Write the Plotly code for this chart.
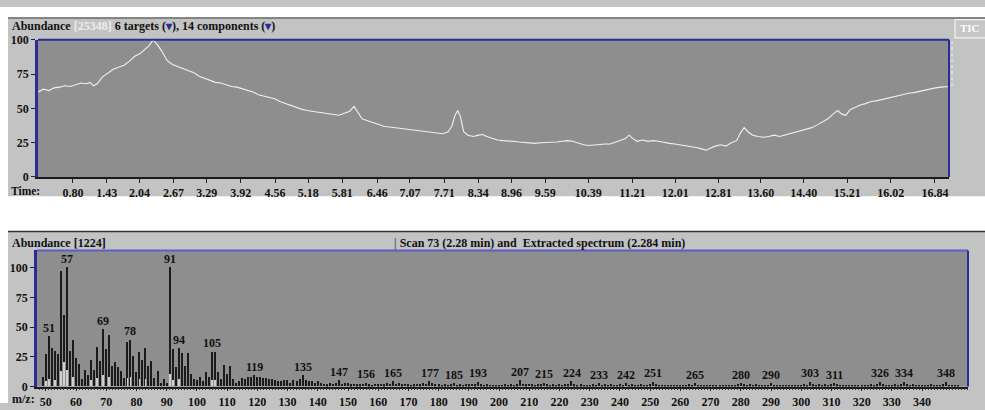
import plotly.graph_objects as go

# ---------------- data ----------------
TIC_TIME = [0.15,0.25,0.35,0.45,0.55,0.65,0.75,0.85,0.95,1.05,1.12,1.18,1.25,1.35,1.45,1.55,1.65,1.75,1.85,1.95,
            2.05,2.15,2.22,2.29,2.36,2.45,2.55,2.65,2.75,2.85,2.95,3.05,3.15,3.25,3.35,3.45,3.55,3.65,3.75,3.85,
            3.95,4.05,4.15,4.25,4.35,4.45,4.55,4.65,4.75,4.85,4.95,5.05,5.15,5.25,5.35,5.45,5.55,5.65,5.75,5.85,
            5.95,6.03,6.10,6.18,6.28,6.38,6.48,6.58,6.68,6.78,6.88,6.98,7.08,7.18,7.28,7.38,7.48,7.58,7.68,7.78,
            7.85,7.91,7.96,8.01,8.07,8.15,8.25,8.35,8.42,8.50,8.60,8.70,8.80,8.90,9.00,9.10,9.20,9.30,9.40,9.50,
            9.60,9.70,9.80,9.90,10.00,10.10,10.20,10.30,10.40,10.50,10.60,10.70,10.80,10.90,11.00,11.08,11.15,11.22,11.30,11.40,
            11.50,11.60,11.70,11.80,11.90,12.00,12.10,12.20,12.30,12.40,12.50,12.58,12.66,12.75,12.85,12.95,13.05,13.15,13.22,13.29,
            13.36,13.45,13.55,13.65,13.75,13.85,13.95,14.05,14.15,14.25,14.35,14.45,14.55,14.65,14.75,14.85,14.95,15.03,15.10,15.18,
            15.26,15.35,15.45,15.55,15.65,15.75,15.85,15.95,16.05,16.15,16.25,16.35,16.45,16.55,16.65,16.75,16.85,16.95,17.05,17.10]
TIC_ABUND = [62,64,63,65,65.5,66.5,66,67.5,68.5,68,69,66.5,68,73,76,78.5,80,81.5,84.5,88,
             90,93.5,96,100,97,92,85,82,80.5,79,77.5,76,73.5,72,70.5,69,68.5,67,66,65.5,
             64.5,63,62,60,59,58,57,55,53.5,52,50.5,49.5,48.5,48,47,46.5,46,45.5,45,46.5,
             48,51.5,47,42.5,41,40,38.5,37,36.5,36,35,34.5,34,33.5,33.5,32.5,32,31.5,31.5,33,
             37,45,48.5,44,33,30.5,29.5,30.5,31,29.5,28,27,26.5,26.5,26,25.5,25,25,24.5,25,
             25,25.5,25.5,26,26.5,26,24.5,23.5,23,23.5,23.5,24,24,25.5,27,28,30.5,28,26,27,
             26,26.5,26,25,24.5,24,23.5,23,22,21.5,20.5,19.5,21,22.5,23.5,22.5,25,26.5,32,36,
             33,30.5,29.5,29,29.5,30.5,29.5,30.5,32,32.5,34,35,36,38,40,42.5,46,48.5,46,45,
             49,50.5,52.5,53.5,55,55.5,56.5,57,58,59,60,61,61.5,62.5,63.5,64,65,65.5,66,66]

TIME_TICKS = [0.80,1.43,2.04,2.67,3.29,3.92,4.56,5.18,5.81,6.46,7.07,7.71,8.34,8.96,9.59,
              10.39,11.21,12.01,12.81,13.60,14.40,15.21,16.02,16.84]
ABUND_TICKS = [0, 25, 50, 75, 100]

TARGET_TIME = [2.28]
TARGET_WINDOW = [2.01, 2.65]
COMPONENT_T_TIMES = [4.56, 6.01, 6.29, 7.96, 11.17, 13.29]
COMPONENT_TIMES = [4.00, 8.41, 15.04, 16.60]
SCAN_MARK_TIME = [7.96]

SPEC_MZ = list(range(49, 353))
SPEC_ABUND = [
    8, 27, 42, 32, 30, 27, 97, 60, 100, 30, 39,            # 49-59
    24, 19, 6, 14, 9, 22, 14, 33, 21, 48,                  # 60-69
    31, 43, 17, 20, 16, 12.5, 7, 37.5, 39, 25,             # 70-79
    12, 29, 22, 32, 17, 21.5, 7, 13, 3, 6,                 # 80-89
    3, 100, 31, 16, 32, 28, 17, 28, 10, 6,                 # 90-99
    5, 8, 4, 12, 8, 29, 29, 12, 6, 18,                     # 100-109
    10, 17, 6, 3, 4, 7, 6, 8, 8, 9,                        # 110-119
    8, 8, 7, 7, 6, 6, 5, 4, 4, 5,                          # 120-129
    5, 3, 5, 4, 6, 9, 5, 4, 4, 3,                          # 130-139
    4, 3, 2, 1.5, 2.5, 2, 3, 5, 2, 3,                      # 140-149
    2.5, 1.5, 2, 1.5, 1.5, 2, 3, 1.5, 1, 2,                # 150-159
    1.5, 2, 1.5, 2.5, 2, 4, 2, 2.5, 1.5, 2,                # 160-169
    1.5, 1, 1.5, 2, 1.5, 2.5, 2, 4, 2.5, 1.5,              # 170-179
    1.5, 1, 1.5, 1, 1.5, 2.5, 1, 1.5, 1, 1.5,              # 180-189
    1.5, 2, 1.5, 3.5, 1.5, 1, 1.5, 1, 1, 1,                # 190-199
    1, 1, 1.5, 1, 1.5, 1, 1.5, 5, 2, 1.5,                  # 200-209
    2, 1.5, 1, 1.5, 1.5, 3, 1.5, 1, 1.5, 1,                # 210-219
    1.5, 1, 1.5, 1.5, 4, 1.5, 1, 1.5, 1, 1,                # 220-229
    1, 1.5, 1, 2.5, 1, 1.5, 1, 1.5, 1, 1,                  # 230-239
    1.5, 1, 2.5, 1, 1.5, 1, 1, 1.5, 1, 1,                  # 240-249
    1.5, 3.5, 1.5, 1, 1, 1, 1, 0.5, 1, 1,                  # 250-259
    1, 1, 1, 1.5, 1, 2.5, 1, 1, 1, 0.5,                    # 260-269
    1, 0.5, 1, 0.5, 1, 0.5, 1, 1, 1, 1.5,                  # 270-279
    2.5, 1.5, 1, 1.5, 1, 1.5, 1, 1, 1, 1,                  # 280-289
    2.5, 1, 1, 1, 0.5, 1, 0.5, 0.5, 0.5, 1,                # 290-299
    1, 1.5, 1, 3.5, 1.5, 1, 1.5, 1, 1.5, 1,                # 300-309
    1.5, 2.5, 1.5, 1, 1, 1, 0.5, 1, 0.5, 1,                # 310-319
    1, 1, 1, 1.5, 1, 1.5, 3.5, 1.5, 1, 1,                  # 320-329
    1, 1.5, 1, 1.5, 3.5, 1.5, 1, 1.5, 1, 1,                # 330-339
    1, 1, 1, 1.5, 1, 1, 1, 1.5, 3.5, 1,                    # 340-349
    1, 0.5, 0.5,                                           # 350-352
]
EXTRACT_MZ = [50, 51, 53, 55, 56, 57, 59, 65, 67, 69, 71, 77, 78, 81, 83, 91, 92, 94, 105, 106]
EXTRACT_ABUND = [4, 6, 5, 13, 20, 14, 8, 5, 7, 9, 8, 7, 8, 6, 6, 10, 5, 6, 5, 5]

PEAK_LABELS = [51, 57, 69, 78, 91, 94, 105, 119, 135, 147, 156, 165, 177, 185, 193, 207, 215,
               224, 233, 242, 251, 265, 280, 290, 303, 311, 326, 334, 348]
MZ_TICKS = list(range(50, 350, 10))

# ---------------- styling / layout helpers ----------------
W, H = 985, 410
def px(x): return x / W
def py(y): return 1 - y / H

FONT = "Liberation Serif"
FS = 12
PANEL = "#c3c3c3"
PLOTBG = "#8e8e8e"
BLUE = "#2c2c96"
TXT = "#111111"

fig = go.Figure()

# TIC trace
fig.add_trace(go.Scatter(x=TIC_TIME, y=TIC_ABUND, mode="lines",
                         line=dict(color="#f0f0f0", width=1.1),
                         xaxis="x", yaxis="y", hoverinfo="skip", cliponaxis=False))

# component markers (T + triangle)
ncomp = len(COMPONENT_T_TIMES)
fig.add_trace(go.Scatter(x=COMPONENT_T_TIMES, y=[106] * ncomp, mode="markers",
                         marker=dict(symbol="line-ew", size=6, line=dict(color=BLUE, width=2)),
                         xaxis="x", yaxis="y", cliponaxis=False, hoverinfo="skip"))
fig.add_trace(go.Scatter(x=COMPONENT_T_TIMES, y=[104] * ncomp, mode="markers",
                         marker=dict(symbol="line-ns", size=5, line=dict(color=BLUE, width=1.5)),
                         xaxis="x", yaxis="y", cliponaxis=False, hoverinfo="skip"))
all_comp = COMPONENT_T_TIMES + COMPONENT_TIMES
fig.add_trace(go.Scatter(x=all_comp, y=[101.6] * len(all_comp), mode="markers",
                         marker=dict(symbol="triangle-down", size=7, color=BLUE),
                         xaxis="x", yaxis="y", cliponaxis=False, hoverinfo="skip"))
# target marker (red)
fig.add_trace(go.Scatter(x=TARGET_WINDOW, y=[103.5, 103.5], mode="lines",
                         line=dict(color="#e02020", width=2.5),
                         xaxis="x", yaxis="y", cliponaxis=False, hoverinfo="skip"))
fig.add_trace(go.Scatter(x=TARGET_TIME, y=[101.5], mode="markers",
                         marker=dict(symbol="triangle-down", size=8, color="#e02020"),
                         xaxis="x", yaxis="y", cliponaxis=False, hoverinfo="skip"))
# scan marker below axis
fig.add_trace(go.Scatter(x=SCAN_MARK_TIME, y=[-3.6], mode="markers",
                         marker=dict(symbol="triangle-up", size=6, color=BLUE),
                         xaxis="x", yaxis="y", cliponaxis=False, hoverinfo="skip"))

# spectrum bars
fig.add_trace(go.Bar(x=SPEC_MZ, y=SPEC_ABUND, width=0.42,
                     marker=dict(color="#1b1b1b", line=dict(width=0)),
                     xaxis="x2", yaxis="y2", hoverinfo="skip"))
fig.add_trace(go.Bar(x=EXTRACT_MZ, y=EXTRACT_ABUND, width=0.25,
                     marker=dict(color="#cfcfcf", line=dict(width=0)),
                     xaxis="x2", yaxis="y2", hoverinfo="skip"))

# ---------------- annotations ----------------
ann = []
tri = "<span style='color:%s'>▾</span>" % BLUE
ann.append(dict(xref="paper", yref="paper", x=px(10), y=py(20), xanchor="left", yanchor="middle",
                showarrow=False,
                text="<b>Abundance <span style='color:#ececec'>[25348]</span> 6 targets (%s), 14 components (%s)</b>" % (tri, tri),
                font=dict(family=FONT, size=FS, color=TXT)))
ann.append(dict(xref="paper", yref="paper", x=px(10), y=py(191), xanchor="left", yanchor="middle",
                showarrow=False, text="<b>Time:</b>", font=dict(family=FONT, size=11.5, color=TXT),
                borderpad=0))
ann.append(dict(xref="paper", yref="paper", x=px(970), y=py(22), xanchor="center", yanchor="middle",
                showarrow=False, text="<b>TIC</b>", font=dict(family=FONT, size=11, color="#ffffff")))
ann.append(dict(xref="paper", yref="paper", x=px(10), y=py(244), xanchor="left", yanchor="middle",
                showarrow=False, text="<b>Abundance [1224]</b>", font=dict(family=FONT, size=FS, color=TXT)))
ann.append(dict(xref="paper", yref="paper", x=px(392), y=py(244), xanchor="left", yanchor="middle",
                showarrow=False,
                text="<b><span style='color:#555'>|</span> Scan 73 (2.28 min) and&nbsp;&nbsp;Extracted spectrum (2.284 min)</b>",
                font=dict(family=FONT, size=FS, color=TXT)))
ann.append(dict(xref="paper", yref="paper", x=px(10), y=py(406), xanchor="left", yanchor="middle",
                showarrow=False, text="<b>m/z:</b>", font=dict(family=FONT, size=FS, color=TXT)))
abund_by_mz = dict(zip(SPEC_MZ, SPEC_ABUND))
for mz in PEAK_LABELS:
    ann.append(dict(xref="x2", yref="y2", x=mz, y=abund_by_mz[mz], xanchor="center", yanchor="middle",
                    yshift=9, showarrow=False, text="<b>%d</b>" % mz,
                    font=dict(family=FONT, size=FS, color=TXT)))

# ---------------- shapes ----------------
shapes = [
    dict(type="rect", xref="paper", yref="paper", x0=0, x1=1, y0=py(11), y1=1,
         fillcolor="white", line=dict(width=0), layer="below"),
    dict(type="rect", xref="paper", yref="paper", x0=0, x1=1, y0=py(232), y1=py(196),
         fillcolor="white", line=dict(width=0), layer="below"),
    dict(type="rect", xref="paper", yref="paper", x0=0, x1=px(8), y0=0, y1=1,
         fillcolor="white", line=dict(width=0), layer="below"),
    dict(type="line", xref="paper", yref="paper", x0=px(8), x1=1, y0=py(11.5), y1=py(11.5),
         line=dict(color="#6a6a6a", width=1.5)),
    dict(type="line", xref="paper", yref="paper", x0=px(8), x1=1, y0=py(232.5), y1=py(232.5),
         line=dict(color="#333333", width=1.5)),
    dict(type="line", xref="x domain", yref="y domain", x0=0, x1=1, y0=1, y1=1,
         line=dict(color=BLUE, width=2)),
    dict(type="line", xref="x domain", yref="y domain", x0=1, x1=1, y0=0, y1=1,
         line=dict(color=BLUE, width=2)),
    dict(type="line", xref="x2 domain", yref="y2 domain", x0=0, x1=1, y0=1, y1=1,
         line=dict(color="#5d5dc8", width=2)),
    dict(type="line", xref="x2 domain", yref="y2 domain", x0=1, x1=1, y0=0, y1=1,
         line=dict(color=BLUE, width=2)),
    dict(type="rect", xref="paper", yref="paper", x0=px(955), x1=px(986), y0=py(32), y1=py(13),
         fillcolor="#c6c6c6", line=dict(color="#f4f4f4", width=1.2)),
    dict(type="line", xref="paper", yref="paper", x0=px(952), x1=px(952), y0=py(82), y1=py(32),
         line=dict(color="#f4f4f4", width=1, dash="dot")),
]

tickfont = dict(family=FONT, size=FS, color=TXT, weight="bold")

fig.update_layout(
    width=W, height=H, margin=dict(l=0, r=0, t=0, b=0),
    paper_bgcolor=PANEL, plot_bgcolor=PLOTBG,
    showlegend=False, barmode="overlay", bargap=0,
    annotations=ann, shapes=shapes,
    xaxis=dict(domain=[px(38), px(949)], range=[0.149, 17.102], anchor="y",
               tickvals=TIME_TICKS, ticktext=["%.2f" % t for t in TIME_TICKS],
               ticks="outside", ticklen=4, tickcolor="#222", tickwidth=1,
               showline=True, linecolor="#1a1a1a", linewidth=1.5,
               showgrid=False, zeroline=False, tickfont=tickfont, fixedrange=True),
    yaxis=dict(domain=[py(176), py(34)], range=[0, 100], anchor="x",
               tickvals=ABUND_TICKS, ticks="outside", ticklen=4, tickcolor="#222",
               showline=True, linecolor=BLUE, linewidth=2.5,
               showgrid=False, zeroline=False, tickfont=tickfont, fixedrange=True),
    xaxis2=dict(domain=[px(37), px(968)], range=[47.07, 355.2], anchor="y2",
                tickvals=MZ_TICKS, ticks="outside", ticklen=3, tickcolor="#222",
                minor=dict(dtick=1, ticks="outside", ticklen=1.5, tickcolor="#333"),
                showline=True, linecolor="#1a1a1a", linewidth=1.5,
                showgrid=False, zeroline=False, tickfont=tickfont, fixedrange=True),
    yaxis2=dict(domain=[py(393), py(252)], range=[0, 114.6], anchor="x2",
                tickvals=ABUND_TICKS, ticks="outside", ticklen=4, tickcolor="#222",
                showline=True, linecolor=BLUE, linewidth=2.5,
                showgrid=False, zeroline=False, tickfont=tickfont, fixedrange=True),
)

fig.write_html("out.html")
